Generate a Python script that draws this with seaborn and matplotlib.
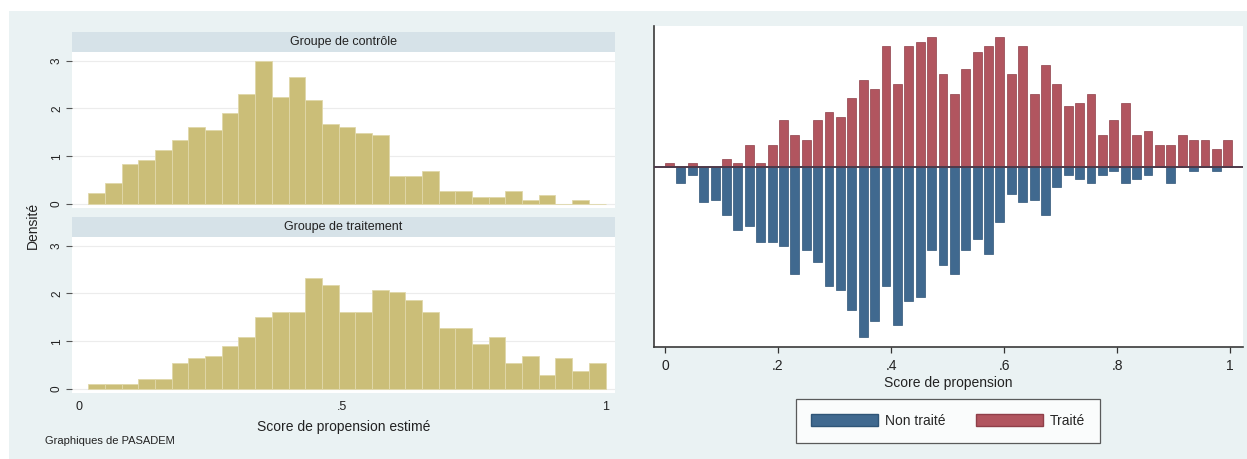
import numpy as np
import pandas as pd
import matplotlib
matplotlib.use("Agg")
import matplotlib.pyplot as plt
from matplotlib.patches import Rectangle, Patch
import seaborn as sns

# left graph: histogram heights (density), 31 common bins from ~0.017 to 1
control_density = [0.23, 0.44, 0.84, 0.92, 1.13, 1.35, 1.62, 1.56, 1.91, 2.31,
                   2.99, 2.23, 2.66, 2.17, 1.67, 1.62, 1.48, 1.45, 0.58, 0.58,
                   0.70, 0.27, 0.27, 0.14, 0.14, 0.27, 0.08, 0.19, 0.0, 0.09, 0.0]
treated_density = [0.10, 0.10, 0.10, 0.22, 0.22, 0.54, 0.65, 0.70, 0.90, 1.10,
                   1.51, 1.61, 1.61, 2.33, 2.17, 1.61, 1.61, 2.08, 2.03, 1.87,
                   1.61, 1.27, 1.27, 0.94, 1.10, 0.54, 0.70, 0.29, 0.65, 0.39, 0.54]
hist_min, hist_max = 0.017, 1.0

# right graph: mirrored bars, 50 bins of width .02 (arbitrary units)
traite = [4, 0, 4, 0, 0, 8, 4, 22, 4, 22,
          47, 32, 27, 47, 55, 50, 69, 87, 78, 121,
          83, 121, 125, 130, 93, 73, 98, 115, 121, 130,
          93, 121, 73, 102, 83, 61, 64, 73, 32, 47,
          64, 32, 36, 22, 22, 32, 27, 27, 18, 27]
non_traite = [0, 16, 8, 35, 33, 48, 63, 59, 75, 75,
              79, 107, 83, 95, 119, 123, 143, 170, 154, 119,
              158, 134, 130, 83, 98, 107, 83, 72, 87, 55,
              27, 35, 33, 48, 20, 8, 12, 16, 8, 4,
              16, 12, 8, 0, 16, 0, 4, 0, 4, 0]

W, H = 1247, 459
bg = "#eaf2f3"
strip_col = "#d6e2e8"
khaki = "#cbbe78"
blue = "#40698f"
red = "#b1555f"

sns.set_theme(style="white")
plt.rcParams["font.family"] = ["Liberation Sans", "DejaVu Sans"]

fig = plt.figure(figsize=(W / 100, H / 100), dpi=100)
fig.patch.set_facecolor("white")
fig.patches.append(Rectangle((9 / W, 0), 1 - 9 / W, 1 - 11 / H, transform=fig.transFigure,
                             facecolor=bg, edgecolor="none", zorder=-10))


def px(x0, y0, x1, y1):
    return [x0 / W, 1 - y1 / H, (x1 - x0) / W, (y1 - y0) / H]


nbins = len(control_density)
width = (hist_max - hist_min) / nbins
centers = hist_min + width * (np.arange(nbins) + 0.5)

panels = [("Groupe de contrôle", control_density, 52, 208, 32),
          ("Groupe de traitement", treated_density, 237, 393, 217)]
for i, (title, vals, top, bot, stop) in enumerate(panels):
    ax = fig.add_axes(px(72, top, 615, bot))
    df = pd.DataFrame({"score": centers, "dens": vals})
    sns.histplot(data=df, x="score", weights="dens", bins=nbins,
                 binrange=(hist_min, hist_max), stat="count", ax=ax,
                 color=khaki, edgecolor="#e0d8aa", linewidth=0.6, alpha=1)
    ax.set_xlim(-0.014, 1.018)
    ax.set_ylim(-0.08, 3.18)
    ax.set_yticks([0, 1, 2, 3])
    ax.set_yticklabels(["0", "1", "2", "3"], rotation=90, va="center")
    ax.yaxis.grid(True, color="#ececec", linewidth=0.8)
    ax.set_axisbelow(True)
    for s in ax.spines.values():
        s.set_visible(False)
    ax.tick_params(axis="y", left=True, length=4.5, width=0.8, color="#555555",
                   labelsize=8.5, pad=2, labelcolor="#222222")
    ax.set_ylabel("")
    if i == 0:
        ax.set_xticks([])
        ax.set_xlabel("")
    else:
        ax.set_xticks([0, 0.5, 1])
        ax.set_xticklabels(["0", ".5", "1"])
        ax.tick_params(axis="x", bottom=False, length=0, labelsize=9, pad=5.5,
                       labelcolor="#222222")
        ax.set_xlabel("Score de propension estimé", fontsize=10, labelpad=5,
                      color="#222222")
    fig.patches.append(Rectangle((72 / W, 1 - top / H), 543 / W, (top - stop) / H,
                                 transform=fig.transFigure, facecolor=strip_col,
                                 edgecolor="none", zorder=-5))
    fig.text((72 + 615) / 2 / W, 1 - (stop + top) / 2 / H, title, ha="center",
             va="center", fontsize=9, color="#222222")

fig.text(33 / W, 1 - 225 / H, "Densité", rotation=90, ha="center", va="center",
         fontsize=10, color="#222222")
fig.text(45 / W, 1 - 441 / H, "Graphiques de PASADEM", ha="left", va="center",
         fontsize=8, color="#222222")

# right graph
axr = fig.add_axes(px(654, 26, 1243, 347))
bar_x = np.linspace(0.008, 0.996, len(traite))
sns.barplot(x=bar_x, y=traite, native_scale=True, width=0.78, color=red,
            edgecolor="#8f3f49", linewidth=0.5, saturation=1, errorbar=None, ax=axr)
sns.barplot(x=bar_x, y=-np.array(non_traite), native_scale=True, width=0.78, color=blue,
            edgecolor="#2f5577", linewidth=0.5, saturation=1, errorbar=None, ax=axr)
axr.axhline(0, color="#4e3a4a", linewidth=1.4, zorder=5)
axr.set_xlim(-0.0195, 1.023)
axr.set_ylim(-180.3, 140.7)
axr.set_yticks([])
axr.set_ylabel("")
axr.set_xticks([0, 0.2, 0.4, 0.6, 0.8, 1])
axr.set_xticklabels(["0", ".2", ".4", ".6", ".8", "1"])
axr.tick_params(axis="x", bottom=True, length=4, width=0.9, color="#333333",
                labelsize=10, pad=5, labelcolor="#222222")
axr.set_xlabel("Score de propension", fontsize=10, labelpad=2, color="#222222")
for s in ["top", "right"]:
    axr.spines[s].set_visible(False)
for s in ["left", "bottom"]:
    axr.spines[s].set_color("#3a3a3a")
    axr.spines[s].set_linewidth(1.2)

handles = [Patch(facecolor=blue, edgecolor="#2f5577", label="Non traité"),
           Patch(facecolor=red, edgecolor="#8f3f49", label="Traité")]
leg = axr.legend(handles=handles, loc="center", bbox_to_anchor=(948 / W, 1 - 421 / H),
                 bbox_transform=fig.transFigure, ncol=2, frameon=True, fancybox=False,
                 edgecolor="#333333", handlelength=4.8, handleheight=1.0,
                 handletextpad=0.5, columnspacing=2.2, borderpad=1.1, fontsize=10)
leg.get_frame().set_linewidth(0.9)

fig.savefig("out.png", dpi=100)
